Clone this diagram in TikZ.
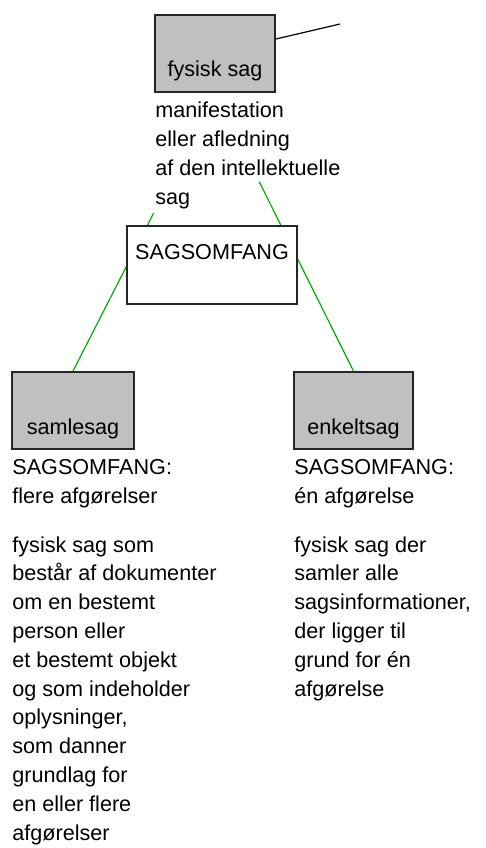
\documentclass[tikz,border=0pt]{standalone}
\usepackage{fontspec}
\setmainfont{Liberation Sans}
\usepackage{tikz}
\definecolor{boxgray}{RGB}{192,192,192}
\definecolor{linkgreen}{RGB}{0,176,0}

\begin{document}
\begin{tikzpicture}[x=0.5pt, y=-0.5pt,
    every node/.style={font=\fontsize{10.8}{14.4}\selectfont},
    casebox/.style={draw=black!85, line width=0.9pt, inner sep=0pt},
    desc/.style={anchor=base west, align=left, inner sep=0pt},
    link/.style={linkgreen, line width=0.6pt}]
    \useasboundingbox (0,0) rectangle (486,848);

    % boxes
    \node[casebox, fill=boxgray, minimum width=60pt, text height=30.5pt, text depth=8pt] (fysisk) at (215,53.5) {fysisk sag};
    \node[casebox, fill=boxgray, minimum width=61pt, text height=31pt, text depth=7.5pt] (samle) at (73,410.5) {samlesag};
    \node[casebox, fill=boxgray, minimum width=59.5pt, text height=31pt, text depth=7.5pt] (enkelt) at (353.5,410.5) {enkeltsag};

    % links to the physical case
    \draw[link, shorten >=67.5pt] (samle.north) -- (fysisk.south);
    \draw[link, shorten >=49.6pt] (enkelt.north) -- (fysisk.south);
    \coordinate (tail) at (340,24);
    \draw[black, line width=0.6pt] (fysisk.east) ++(0,-14.5) -- (tail);

    \node[casebox, fill=white, minimum width=85pt, text height=16.5pt, text depth=22.5pt] (scope) at (212,265) {SAGSOMFANG};

    % texts (base = last line)
    \node[desc] (fysiskDef) at (155,204) {manifestation\\eller afledning\\af den intellektuelle\\sag};
    \node[desc] (samleScope) at (12,503) {SAGSOMFANG:\\flere afgørelser};
    \node[desc] (samleDef) at (12,840) {fysisk sag som\\består af dokumenter\\om en bestemt\\person eller\\et bestemt objekt\\og som indeholder\\oplysninger,\\som danner\\grundlag for\\en eller flere\\afgørelser};
    \node[desc] (enkeltScope) at (294,503) {SAGSOMFANG:\\én afgørelse};
    \node[desc] (enkeltDef) at (294,696) {fysisk sag der\\samler alle\\sagsinformationer,\\der ligger til\\grund for én\\afgørelse};
\end{tikzpicture}
\end{document}
